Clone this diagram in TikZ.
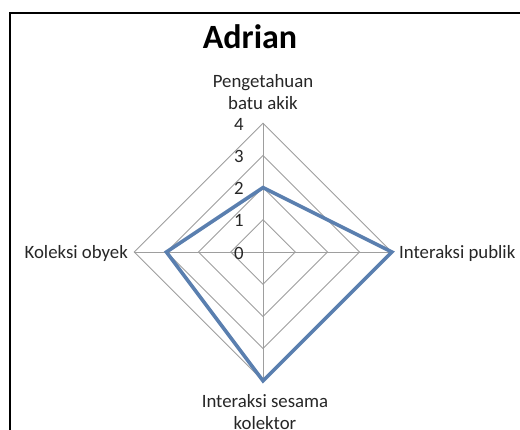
\documentclass[tikz,border=0pt]{standalone}
\usepackage{fontspec}
\setmainfont{Carlito}
\usetikzlibrary{calc}
\begin{document}
\begin{tikzpicture}[x=1pt,y=-1pt,
  lbl/.style={inner sep=0pt,font=\fontsize{18.8}{22.5}\selectfont,text=black!85,align=center},
  tick/.style={inner sep=0pt,font=\fontsize{18.8}{22.5}\selectfont,text=black!85},
  grid/.style={draw=black!38,line width=0.9pt},
  series/.style={draw=serblue,line width=3.6pt,line join=miter},
  frame/.style={draw=black,line width=2pt}]
\definecolor{serblue}{HTML}{5A7FAF}
\useasboundingbox (0,0) rectangle (520,430);
% frame (cropped)
\draw[frame] (9.5,430) -- (9.5,13) -- (520,13);
% centre and grid
\coordinate (c) at (263,252);
\def\u{32.2}
\foreach \k in {1,2,3,4}{
  \coordinate (t\k) at ($(c)+(0,-\k*\u)$);
  \coordinate (r\k) at ($(c)+(\k*\u,0)$);
  \coordinate (b\k) at ($(c)+(0,\k*\u)$);
  \coordinate (l\k) at ($(c)+(-\k*\u,0)$);
  \draw[grid] (t\k) -- (r\k) -- (b\k) -- (l\k) -- cycle;
}
\draw[grid] (c) -- (t4) (c) -- (r4) (c) -- (b4) (c) -- (l4);
% tick labels
\foreach \k in {0,1,2,3,4}{
  \node[tick] (tk\k) at ($(c)+(-24,-\k*\u+1)$) {\k};
}
% data series
\draw[series] (t2) -- (r4) -- (b4) -- (l3) -- cycle;
% axis labels
\node[lbl] (ax1) at (263,92) {Pengetahuan\\batu akik};
\node[lbl,anchor=west] (ax2) at (399,253) {Interaksi publik};
\node[lbl] (ax3) at (265,412) {Interaksi sesama\\kolektor};
\node[lbl,anchor=east] (ax4) at (128,253) {Koleksi obyek};
% title
\node[inner sep=0pt,font=\fontsize{34}{40}\selectfont\bfseries] (title) at (250,37) {Adrian};
\end{tikzpicture}
\end{document}
